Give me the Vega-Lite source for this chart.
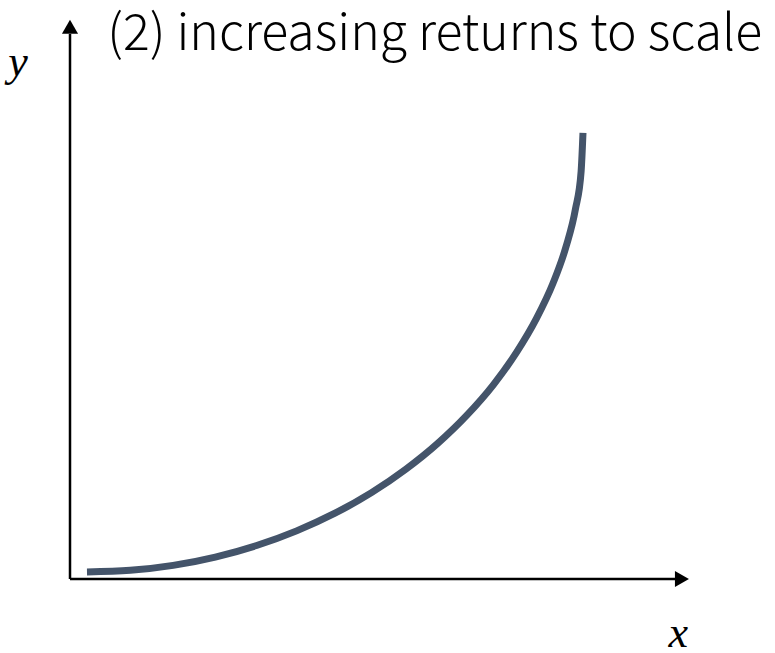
{
  "$schema": "https://vega.github.io/schema/vega-lite/v6.json",
  "width": 620,
  "height": 559,
  "autosize": {"type": "none"},
  "padding": {"left": 70, "top": 20, "right": 85, "bottom": 74},
  "background": "white",
  "config": {"view": {"stroke": null}},
  "datasets": {
    "curve": [
      {"t": 0, "x": 0.274, "y": 0.125},
      {"t": 5, "x": 0.972, "y": 0.155},
      {"t": 10, "x": 1.663, "y": 0.244},
      {"t": 15, "x": 2.344, "y": 0.393},
      {"t": 20, "x": 3.010, "y": 0.599},
      {"t": 25, "x": 3.655, "y": 0.861},
      {"t": 30, "x": 4.274, "y": 1.177},
      {"t": 35, "x": 4.863, "y": 1.545},
      {"t": 40, "x": 5.416, "y": 1.963},
      {"t": 45, "x": 5.931, "y": 2.426},
      {"t": 50, "x": 6.402, "y": 2.931},
      {"t": 55, "x": 6.828, "y": 3.474},
      {"t": 60, "x": 7.202, "y": 4.053},
      {"t": 65, "x": 7.524, "y": 4.661},
      {"t": 70, "x": 7.792, "y": 5.294},
      {"t": 75, "x": 8.001, "y": 5.947},
      {"t": 80, "x": 8.152, "y": 6.616},
      {"t": 85, "x": 8.244, "y": 7.295},
      {"t": 90, "x": 8.274, "y": 7.980}
    ],
    "axes": [
      {"name": "x", "x": 0, "y": 0, "x2": 9.78, "y2": 0},
      {"name": "y", "x": 0, "y": 0, "x2": 0, "y2": 9.75}
    ],
    "arrowsUp": [{"x": 0, "y": 9.88}],
    "arrowsRight": [{"x": 9.87, "y": 0}],
    "labels": [
      {"text": "(2) increasing returns to scale", "x": 0.6, "y": 9.46, "kind": "title"},
      {"text": "y", "x": -0.84, "y": 9.0, "kind": "var"},
      {"text": "x", "x": 9.81, "y": -1.22, "kind": "var"}
    ]
  },
  "layer": [
    {
      "data": {"name": "axes"},
      "mark": {"type": "rule", "color": "black", "strokeWidth": 2.5},
      "encoding": {
        "x": {"field": "x", "type": "quantitative", "scale": {"domain": [0, 10], "nice": false, "zero": false}, "axis": null},
        "y": {"field": "y", "type": "quantitative", "scale": {"domain": [0, 10], "nice": false, "zero": false}, "axis": null},
        "x2": {"field": "x2"},
        "y2": {"field": "y2"}
      }
    },
    {
      "data": {"name": "arrowsUp"},
      "mark": {"type": "point", "shape": "triangle-up", "filled": true, "color": "black", "size": 260, "opacity": 1},
      "encoding": {
        "x": {"field": "x", "type": "quantitative"},
        "y": {"field": "y", "type": "quantitative"}
      }
    },
    {
      "data": {"name": "arrowsRight"},
      "mark": {"type": "point", "shape": "triangle-right", "filled": true, "color": "black", "size": 260, "opacity": 1},
      "encoding": {
        "x": {"field": "x", "type": "quantitative"},
        "y": {"field": "y", "type": "quantitative"}
      }
    },
    {
      "data": {"name": "curve"},
      "mark": {"type": "line", "color": "#44546A", "strokeWidth": 7, "strokeCap": "butt", "interpolate": "monotone"},
      "encoding": {
        "x": {"field": "x", "type": "quantitative"},
        "y": {"field": "y", "type": "quantitative"},
        "order": {"field": "t", "type": "quantitative"}
      }
    },
    {
      "data": {"name": "labels"},
      "transform": [{"filter": "datum.kind == 'title'"}],
      "mark": {"type": "text", "align": "left", "baseline": "alphabetic", "font": "Noto Sans CJK JP", "fontWeight": 300, "fontSize": 50, "color": "black"},
      "encoding": {
        "x": {"field": "x", "type": "quantitative"},
        "y": {"field": "y", "type": "quantitative"},
        "text": {"field": "text"}
      }
    },
    {
      "data": {"name": "labels"},
      "transform": [{"filter": "datum.kind == 'var'"}],
      "mark": {"type": "text", "align": "center", "baseline": "alphabetic", "font": "Liberation Serif", "fontStyle": "italic", "fontSize": 44, "color": "black"},
      "encoding": {
        "x": {"field": "x", "type": "quantitative"},
        "y": {"field": "y", "type": "quantitative"},
        "text": {"field": "text"}
      }
    }
  ]
}
